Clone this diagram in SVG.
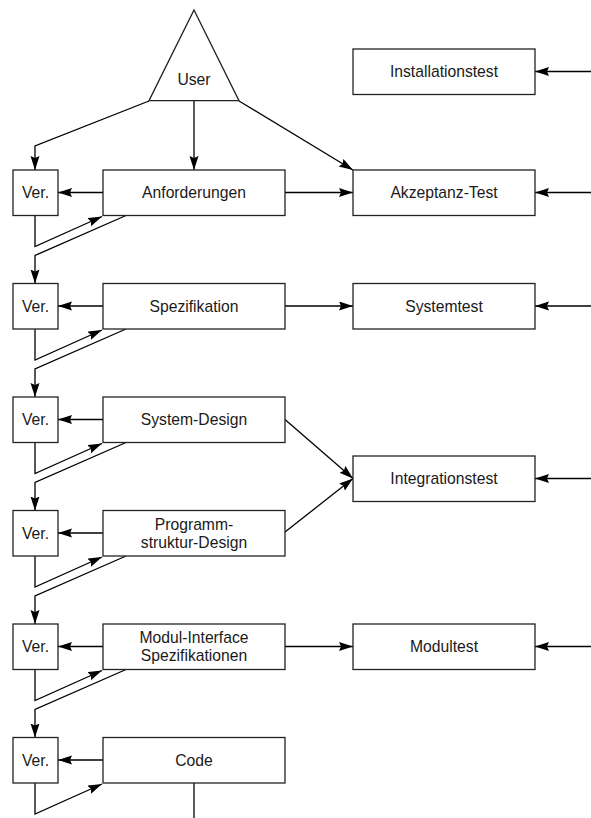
<svg xmlns="http://www.w3.org/2000/svg" width="591" height="818" viewBox="0 0 591 818">
<style>
.box{fill:#fff;stroke:#222;stroke-width:1.3}
.ln{fill:none;stroke:#000;stroke-width:1.3}
.arr{marker-end:url(#ah)}
text{font-family:"Liberation Sans",Arial,sans-serif;font-size:15.7px;fill:#1a1a1a;text-anchor:middle}
</style>
<defs>
<marker id="ah" markerUnits="userSpaceOnUse" markerWidth="16" markerHeight="10" refX="14" refY="4.5" orient="auto">
<path d="M0,0 L14,4.5 L0,9 L2,4.5 z" fill="#000"/>
</marker>
</defs>
<rect width="591" height="818" fill="#fff"/>
<g id="connectors">
<polyline class="ln arr" points="149,101 35,146 35,170"/>
<line class="ln arr" x1="194" y1="101" x2="194" y2="170"/>
<line class="ln arr" x1="239" y1="101" x2="353" y2="170"/>
<line class="ln arr" x1="103" y1="192.5" x2="58" y2="192.5"/>
<line class="ln arr" x1="103" y1="306" x2="58" y2="306"/>
<line class="ln arr" x1="103" y1="419.5" x2="58" y2="419.5"/>
<line class="ln arr" x1="103" y1="533" x2="58" y2="533"/>
<line class="ln arr" x1="103" y1="646.5" x2="58" y2="646.5"/>
<line class="ln arr" x1="103" y1="760" x2="58" y2="760"/>
<polyline class="ln arr" points="35,215.5 35,246.5 102,216.5"/>
<polyline class="ln arr" points="35,329 35,360 102,330"/>
<polyline class="ln arr" points="35,442.5 35,473.5 102,443.5"/>
<polyline class="ln arr" points="35,556 35,587 102,557"/>
<polyline class="ln arr" points="35,669.5 35,700.5 102,670.5"/>
<polyline class="ln arr" points="35,783 35,814 102,784"/>
<polyline class="ln arr" points="126,215.5 35,255.5 35,283.5"/>
<polyline class="ln arr" points="126,329 35,369 35,397"/>
<polyline class="ln arr" points="126,442.5 35,482.5 35,510.5"/>
<polyline class="ln arr" points="126,556 35,596 35,624"/>
<polyline class="ln arr" points="126,669.5 35,709.5 35,737.5"/>
<line class="ln" x1="194" y1="783" x2="194" y2="818"/>
<line class="ln arr" x1="285" y1="192.5" x2="353" y2="192.5"/>
<line class="ln arr" x1="285" y1="306" x2="353" y2="306"/>
<line class="ln arr" x1="285" y1="419.5" x2="353" y2="478.5"/>
<line class="ln arr" x1="285" y1="532" x2="353" y2="478.5"/>
<line class="ln arr" x1="285" y1="646.5" x2="353" y2="646.5"/>
<line class="ln arr" x1="591" y1="71.5" x2="535" y2="71.5"/>
<line class="ln arr" x1="591" y1="192.5" x2="535" y2="192.5"/>
<line class="ln arr" x1="591" y1="306" x2="535" y2="306"/>
<line class="ln arr" x1="591" y1="478.5" x2="535" y2="478.5"/>
<line class="ln arr" x1="591" y1="646.5" x2="535" y2="646.5"/>
</g>
<g id="user"><polygon class="box" points="194,10 239,100.7 149,100.7"/><text x="194" y="85">User</text></g>
<g id="ver1"><rect class="box" x="13" y="170" width="45" height="45.5"/><text x="35.5" y="198">Ver.</text></g>
<g id="ver2"><rect class="box" x="13" y="283.5" width="45" height="45.5"/><text x="35.5" y="311.5">Ver.</text></g>
<g id="ver3"><rect class="box" x="13" y="397" width="45" height="45.5"/><text x="35.5" y="425">Ver.</text></g>
<g id="ver4"><rect class="box" x="13" y="510.5" width="45" height="45.5"/><text x="35.5" y="538.5">Ver.</text></g>
<g id="ver5"><rect class="box" x="13" y="624" width="45" height="45.5"/><text x="35.5" y="652">Ver.</text></g>
<g id="ver6"><rect class="box" x="13" y="737.5" width="45" height="45.5"/><text x="35.5" y="765.5">Ver.</text></g>
<g id="anforderungen"><rect class="box" x="103" y="170" width="182" height="45.5"/><text x="194" y="198">Anforderungen</text></g>
<g id="spezifikation"><rect class="box" x="103" y="283.5" width="182" height="45.5"/><text x="194" y="311.5">Spezifikation</text></g>
<g id="system-design"><rect class="box" x="103" y="397" width="182" height="45.5"/><text x="194" y="425">System-Design</text></g>
<g id="programmstruktur"><rect class="box" x="103" y="510.5" width="182" height="45.5"/><text x="194" y="529.5">Programm-</text><text x="194" y="547.5">struktur-Design</text></g>
<g id="modul-interface"><rect class="box" x="103" y="624" width="182" height="45.5"/><text x="194" y="643">Modul-Interface</text><text x="194" y="661">Spezifikationen</text></g>
<g id="code"><rect class="box" x="103" y="737.5" width="182" height="45.5"/><text x="194" y="765.5">Code</text></g>
<g id="installationstest"><rect class="box" x="353" y="49" width="182" height="45.5"/><text x="444" y="77">Installationstest</text></g>
<g id="akzeptanz"><rect class="box" x="353" y="170" width="182" height="45.5"/><text x="444" y="198">Akzeptanz-Test</text></g>
<g id="systemtest"><rect class="box" x="353" y="283.5" width="182" height="45.5"/><text x="444" y="311.5">Systemtest</text></g>
<g id="integrationstest"><rect class="box" x="353" y="456" width="182" height="45.5"/><text x="444" y="484">Integrationstest</text></g>
<g id="modultest"><rect class="box" x="353" y="624" width="182" height="45.5"/><text x="444" y="652">Modultest</text></g>
</svg>
